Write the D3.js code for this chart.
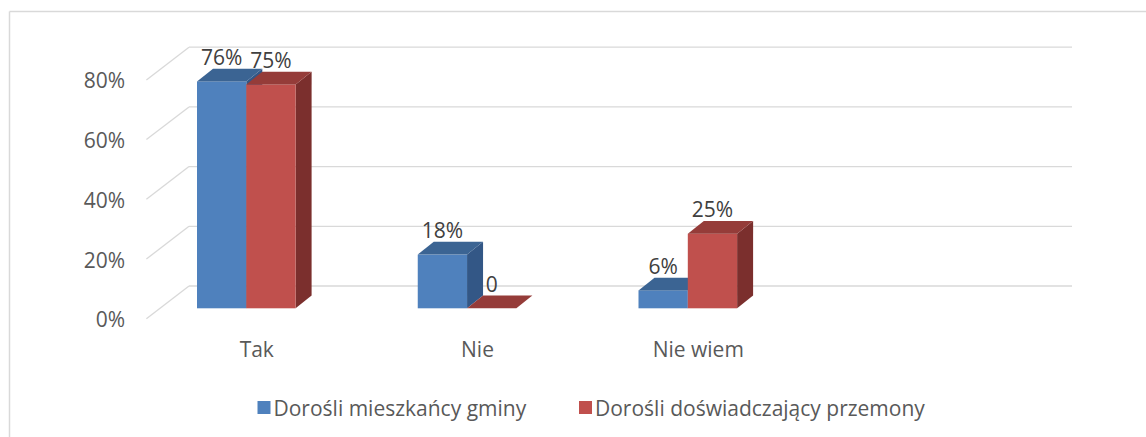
<!DOCTYPE html>
<html><head><meta charset="utf-8">
<script src="https://cdn.jsdelivr.net/npm/d3@7"></script>
<style>html,body{margin:0;padding:0;background:#fff;}svg{display:block;}</style>
</head><body>
<svg id="chart" width="1146" height="437"></svg>
<script>
const categories = ["Tak", "Nie", "Nie wiem", ""];
const seriesNames = ["Dorośli mieszkańcy gminy", "Dorośli doświadczający przemony"];
const seriesA = [0.76, 0.18, 0.06, null];
const seriesB = [0.75, 0, 0.25, null];
const yTicks = [0, 0.2, 0.4, 0.6, 0.8];

const FONT = "'Open Sans', Lato, sans-serif";
const FS = 21;
const TXT = "#595959";
const colors = [
  {front: "#4F81BD", top: "#3B6493", side: "#335786"},
  {front: "#C0504D", top: "#953C39", side: "#7B2F2D"}
];
const svg = d3.select("#chart");

// frame (top + left)
svg.append("line").attr("x1", 9.5).attr("x2", 1146).attr("y1", 11.5).attr("y2", 11.5).attr("stroke", "#d9d9d9").attr("stroke-width", 1.5);
svg.append("line").attr("x1", 9.5).attr("x2", 9.5).attr("y1", 11.5).attr("y2", 437).attr("stroke", "#d9d9d9").attr("stroke-width", 1.5);

// geometry
const wallLeft = 189, wallRight = 1072;
const floorDX = -42.6, floorDY = 32.7;
const yBack = d3.scaleLinear().domain([0, 0.8]).range([286, 47.2]);
const yFront = d3.scaleLinear().domain([0, 0.8]).range([308.3, 69.5]);
const xCat = d3.scaleBand().domain(categories).range([wallLeft + floorDX, wallRight + floorDX]);
const groupOffset = 50.6, groupWidth = 98.6;
const xSub = d3.scaleBand().domain([0, 1]).range([0, groupWidth]);
const depthDX = 16, depthDY = -12.7;

// gridlines
const grid = svg.append("g");
yTicks.forEach(t => {
  const y = yBack(t);
  grid.append("line").attr("x1", wallLeft).attr("x2", wallRight).attr("y1", y).attr("y2", y)
    .attr("stroke", "#d9d9d9").attr("stroke-width", 1.3);
  grid.append("line").attr("x1", wallLeft).attr("x2", wallLeft + floorDX).attr("y1", y).attr("y2", y + floorDY)
    .attr("stroke", "#d9d9d9").attr("stroke-width", 1.3);
  svg.append("text").attr("x", 125).attr("y", y + floorDY + 0.5)
    .attr("text-anchor", "end").attr("dominant-baseline", "central")
    .attr("font-family", FONT).attr("font-size", FS).attr("fill", TXT)
    .text(d3.format(".0%")(t));
});

// bars
const bars = svg.append("g");
const labels = svg.append("g");
categories.forEach((c, i) => {
  [seriesA, seriesB].forEach((s, k) => {
    const v = s[i];
    if (v === null) return;
    const x = xCat(c) + groupOffset + xSub(k);
    const w = xSub.bandwidth();
    const yb = yFront(0), yt = yFront(v);
    const col = colors[k];
    bars.append("polygon").attr("points", [[x + w, yt], [x + w + depthDX, yt + depthDY], [x + w + depthDX, yb + depthDY], [x + w, yb]].join(" "))
      .attr("fill", col.side);
    if (yb - yt > 0)
      bars.append("rect").attr("x", x).attr("y", yt).attr("width", w).attr("height", yb - yt).attr("fill", col.front);
    bars.append("polygon").attr("points", [[x, yt], [x + depthDX, yt + depthDY], [x + w + depthDX, yt + depthDY], [x + w, yt]].join(" "))
      .attr("fill", col.top);
    labels.append("text").attr("x", x + w / 2).attr("y", yt + depthDY - 12)
      .attr("text-anchor", "middle").attr("dominant-baseline", "central")
      .attr("font-family", FONT).attr("font-size", FS).attr("fill", "#404040")
      .text(v === 0 ? "0" : d3.format(".0%")(v));
  });
  if (c) {
    svg.append("text").attr("x", xCat(c) + xCat.bandwidth() / 2).attr("y", 349)
      .attr("text-anchor", "middle").attr("dominant-baseline", "central")
      .attr("font-family", FONT).attr("font-size", FS).attr("fill", TXT).text(c);
  }
});

// legend
const legendX = [257.5, 579];
seriesNames.forEach((n, k) => {
  svg.append("rect").attr("x", legendX[k]).attr("y", 401).attr("width", 13).attr("height", 13).attr("fill", colors[k].front);
  svg.append("text").attr("x", legendX[k] + 16).attr("y", 407.5)
    .attr("dominant-baseline", "central")
    .attr("font-family", FONT).attr("font-size", FS).attr("fill", TXT).text(n);
});
</script>
</body></html>
